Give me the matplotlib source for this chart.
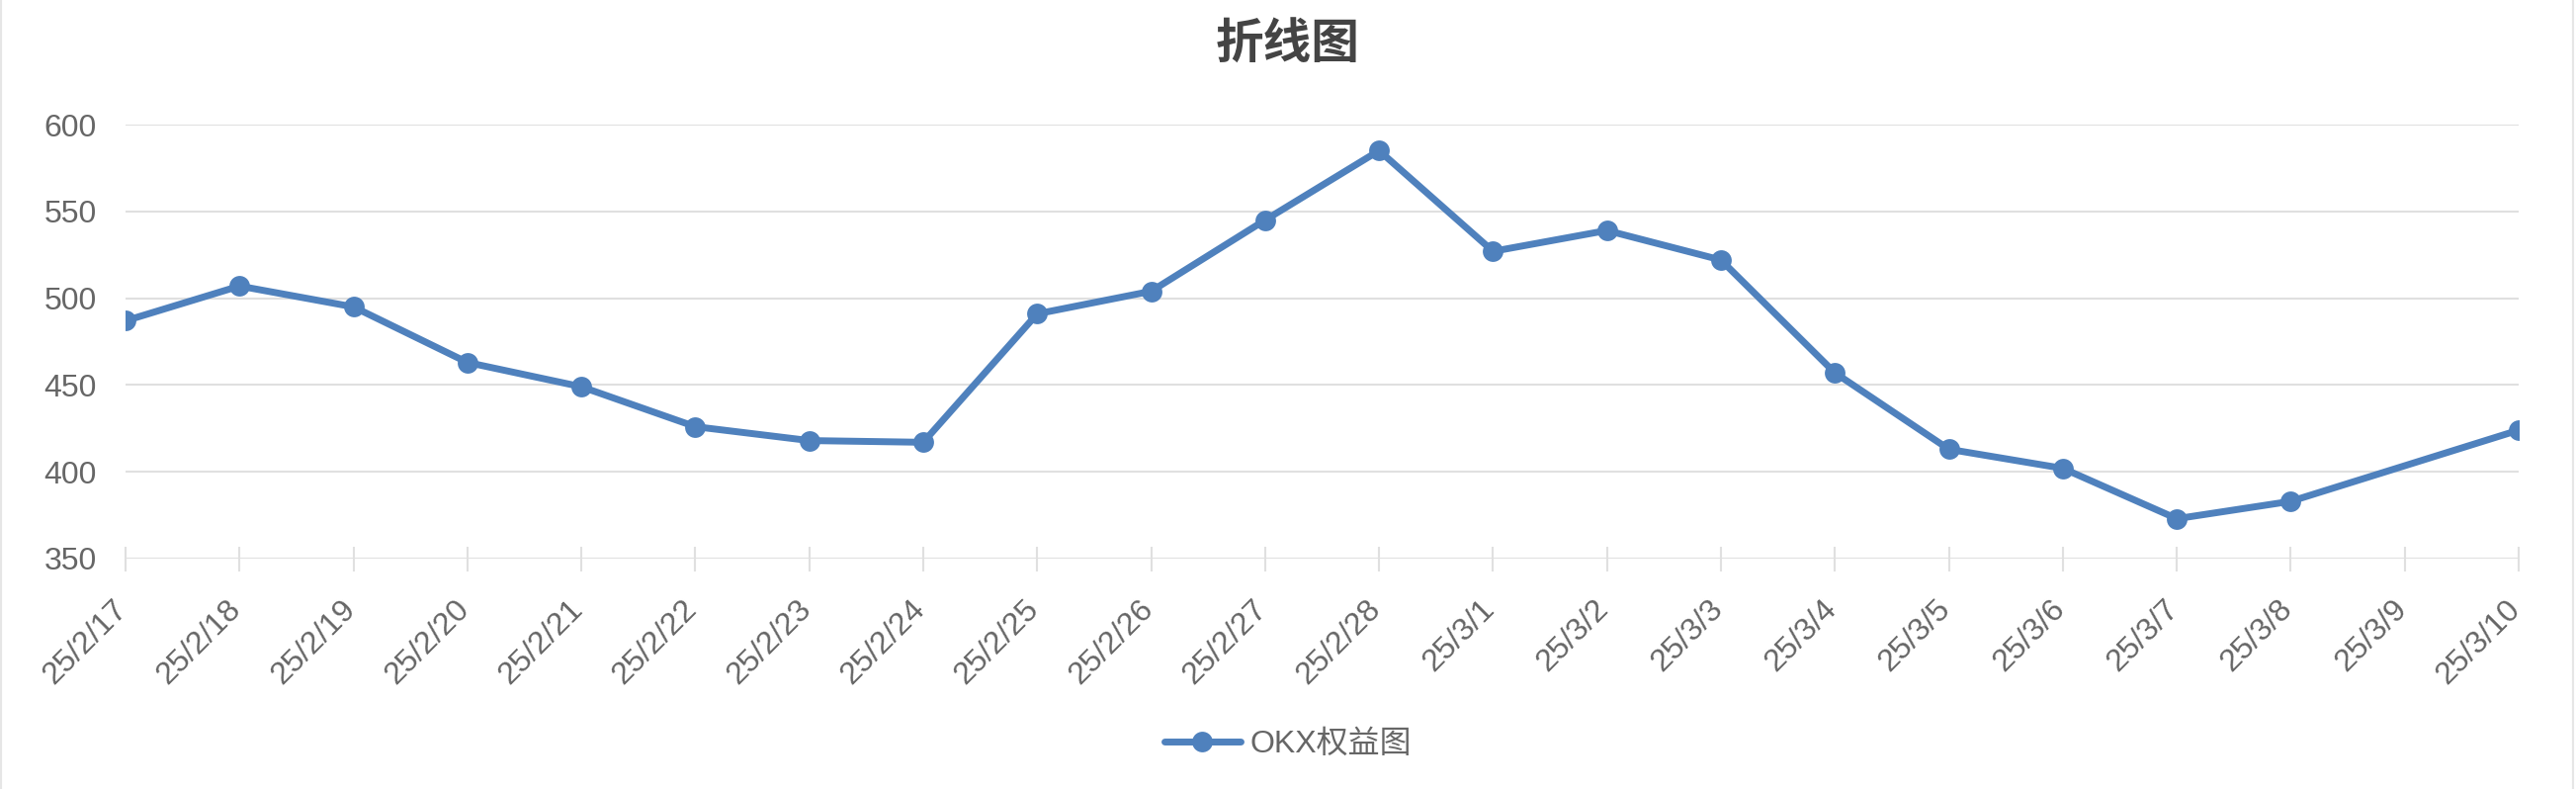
import numpy as np
import matplotlib
matplotlib.use("Agg")
import matplotlib.pyplot as plt
from matplotlib import transforms
from matplotlib.lines import Line2D

plt.rcParams['font.family'] = ['Liberation Sans', 'Noto Sans CJK SC', 'DejaVu Sans']

# data
dates = ["25/2/17", "25/2/18", "25/2/19", "25/2/20", "25/2/21", "25/2/22", "25/2/23",
         "25/2/24", "25/2/25", "25/2/26", "25/2/27", "25/2/28", "25/3/1", "25/3/2",
         "25/3/3", "25/3/4", "25/3/5", "25/3/6", "25/3/7", "25/3/8", "25/3/9", "25/3/10"]
equity = [487, 507, 495, 463, 449, 426, 418, 417, 491, 504, 545, 585, 527, 539,
          522, 457, 413, 402, 373, 383, None, 424]
y_ticks = [350, 400, 450, 500, 550, 600]

title = "折线图"
series_name = "OKX权益图"

blue = "#4F81BD"
grid_c = "#E0E0E0"
text_c = "#666666"

W, H, dpi = 2606, 798, 100
fig = plt.figure(figsize=(W / dpi, H / dpi), dpi=dpi)
ax = fig.add_axes([127 / W, 1 - 565 / H, (2548 - 127) / W, (565 - 126) / H])

x = np.arange(len(dates))
vals = np.array([np.nan if v is None else v for v in equity], float)
ok = ~np.isnan(vals)
ax.plot(x[ok], vals[ok], color=blue, lw=5, marker="o", ms=15,
        markeredgewidth=0, solid_joinstyle="round", zorder=3)

ax.set_xlim(0, len(dates) - 1)
ax.set_ylim(350, 600)
ax.set_yticks(y_ticks)
ax.set_xticks(x)
ax.set_xticklabels(dates, rotation=45, ha="right", va="top")
ax.grid(axis="y", color=grid_c, lw=1.5)
ax.set_axisbelow(True)
for s in ["top", "right", "left", "bottom"]:
    ax.spines[s].set_visible(False)

ax.tick_params(axis="y", length=0, pad=21, labelsize=23, labelcolor=text_c)
ax.tick_params(axis="x", direction="inout", length=18, width=1.5, color=grid_c,
               pad=17, labelsize=23, labelcolor=text_c)

off = transforms.ScaledTranslation(8 / dpi, 0, fig.dpi_scale_trans)
for lab in ax.get_xticklabels():
    lab.set_transform(lab.get_transform() + off)

fig.text(0.5, 1 - 45 / H, title, ha="center", va="center", fontsize=35,
         fontweight="bold", color="#444444", family=['Noto Sans CJK SC', 'DejaVu Sans'])

handle = Line2D([], [], color=blue, lw=5, marker="o", ms=15, markeredgewidth=0,
                solid_capstyle="round")
fig.legend([handle], [series_name], loc="center", bbox_to_anchor=(0.5, 1 - 753 / H),
           frameon=False, fontsize=23, labelcolor=text_c, handlelength=2.4,
           handletextpad=0.3)

# faint border of the canvas
fig.add_artist(Line2D([1 / W, 1 / W], [0, 1], color="#E6E6E6", lw=1.5))
fig.add_artist(Line2D([1 - 3 / W, 1 - 3 / W], [0, 1], color="#E6E6E6", lw=1.5))

fig.savefig("out.png", dpi=dpi, facecolor="white")
